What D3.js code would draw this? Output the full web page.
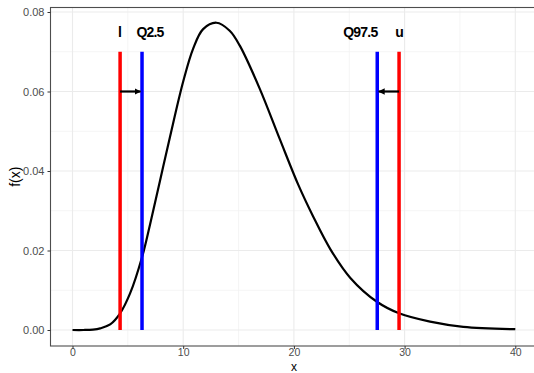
<!DOCTYPE html>
<html>
<head>
<meta charset="utf-8">
<script src="https://cdn.jsdelivr.net/npm/d3@7"></script>
<style>
  body { margin: 0; background: #fff; }
  text { font-family: "Liberation Sans", Arial, sans-serif; }
</style>
</head>
<body>
<div id="chart"></div>
<script>
// density curve
var curveX = [0, 1, 1.85, 2.5, 3.4, 4.3, 5.2, 6.3, 7.0, 7.9, 8.8, 10.0, 10.9, 11.8, 13.0, 14.2, 15.1, 16.9, 18.7, 20.4, 21.75, 23.3, 25.1, 27.5, 29.5, 32.3, 35.3, 40];
var curveY = [0, 0, 0.0001, 0.0004, 0.0014, 0.0042, 0.0092, 0.0185, 0.0265, 0.0375, 0.0485, 0.0625, 0.0708, 0.0757, 0.0773, 0.0753, 0.0716, 0.0608, 0.0482, 0.0365, 0.0285, 0.0203, 0.0131, 0.0071, 0.0042, 0.0021, 0.0008, 0.0002];

// vertical markers
var markerNames = ["l", "Q2.5", "Q97.5", "u"];
var markerX = [4.3, 6.28, 27.53, 29.5];
var markerColors = ["red", "blue", "blue", "red"];
var markerTop = 0.07;

// labels above the markers
var labelText = ["l", "Q2.5", "Q97.5", "u"];
var labelX = [4.25, 7.0, 26.0, 29.5];
var labelY = 0.075;

// arrows (from, to) at y = 0.06
var arrowFrom = [4.3, 29.5];
var arrowTo = [6.28, 27.53];
var arrowY = 0.06;

var xTicks = [0, 10, 20, 30, 40];
var xMinor = [5, 15, 25, 35];
var yTicks = [0, 0.02, 0.04, 0.06, 0.08];
var yMinor = [0.01, 0.03, 0.05, 0.07];

var width = 534, height = 373;
var panel = { left: 50.5, right: 537, top: 7.5, bottom: 346 };

var svg = d3.select("#chart").append("svg")
    .attr("width", width)
    .attr("height", height);

var x = d3.scaleLinear().domain([0, 40]).range([72.5, 515.3]);
var y = d3.scaleLinear().domain([0, 0.08]).range([330, 12]);

// grid
var grid = svg.append("g");
grid.selectAll(".xminor").data(xMinor).enter().append("line")
    .attr("x1", function(d) { return x(d); }).attr("x2", function(d) { return x(d); })
    .attr("y1", panel.top).attr("y2", panel.bottom)
    .attr("stroke", "#f2f2f2").attr("stroke-width", 0.8);
grid.selectAll(".yminor").data(yMinor).enter().append("line")
    .attr("y1", function(d) { return y(d); }).attr("y2", function(d) { return y(d); })
    .attr("x1", panel.left).attr("x2", panel.right)
    .attr("stroke", "#f2f2f2").attr("stroke-width", 0.8);
grid.selectAll(".xmajor").data(xTicks).enter().append("line")
    .attr("x1", function(d) { return x(d); }).attr("x2", function(d) { return x(d); })
    .attr("y1", panel.top).attr("y2", panel.bottom)
    .attr("stroke", "#ebebeb").attr("stroke-width", 1.1);
grid.selectAll(".ymajor").data(yTicks).enter().append("line")
    .attr("y1", function(d) { return y(d); }).attr("y2", function(d) { return y(d); })
    .attr("x1", panel.left).attr("x2", panel.right)
    .attr("stroke", "#ebebeb").attr("stroke-width", 1.1);

// curve
var line = d3.line()
    .x(function(d) { return x(d[0]); })
    .y(function(d) { return y(d[1]); })
    .curve(d3.curveCatmullRom.alpha(0.5));

svg.append("path")
    .datum(d3.zip(curveX, curveY))
    .attr("d", line)
    .attr("fill", "none")
    .attr("stroke", "black")
    .attr("stroke-width", 2.2);

// markers
svg.selectAll(".marker").data(markerX).enter().append("line")
    .attr("x1", function(d) { return x(d); }).attr("x2", function(d) { return x(d); })
    .attr("y1", y(0)).attr("y2", y(markerTop))
    .attr("stroke", function(d, i) { return markerColors[i]; })
    .attr("stroke-width", 3.5);

// arrows
svg.append("defs").append("marker")
    .attr("id", "head")
    .attr("viewBox", "0 0 10 10")
    .attr("refX", 9).attr("refY", 5)
    .attr("markerWidth", 3).attr("markerHeight", 3)
    .attr("orient", "auto")
    .append("path").attr("d", "M0,0 L10,5 L0,10 z").attr("fill", "black");

svg.selectAll(".arrow").data(arrowFrom).enter().append("line")
    .attr("x1", function(d) { return x(d); })
    .attr("x2", function(d, i) { return x(arrowTo[i]) + (arrowTo[i] > d ? -1.5 : 1.5); })
    .attr("y1", y(arrowY)).attr("y2", y(arrowY))
    .attr("stroke", "black").attr("stroke-width", 2.2)
    .attr("marker-end", "url(#head)");

// labels
svg.selectAll(".lab").data(labelText).enter().append("text")
    .attr("x", function(d, i) { return x(labelX[i]); })
    .attr("y", y(labelY) + 5)
    .attr("text-anchor", "middle")
    .attr("font-size", 14)
    .attr("font-weight", "bold")
    .attr("letter-spacing", -0.8)
    .text(function(d) { return d; });

// panel border
svg.append("rect")
    .attr("x", panel.left).attr("y", panel.top)
    .attr("width", panel.right - panel.left).attr("height", panel.bottom - panel.top)
    .attr("fill", "none").attr("stroke", "#4d4d4d").attr("stroke-width", 1.1);

// axes
var xAxis = svg.append("g")
    .attr("transform", "translate(0," + panel.bottom + ")")
    .call(d3.axisBottom(x).tickValues(xTicks).tickSize(3).tickPadding(0));
var yAxis = svg.append("g")
    .attr("transform", "translate(" + panel.left + ",0)")
    .call(d3.axisLeft(y).tickValues(yTicks).tickFormat(d3.format(".2f")).tickSize(3).tickPadding(3));

[xAxis, yAxis].forEach(function(a) {
    a.select(".domain").remove();
    a.selectAll(".tick line").attr("stroke", "#333").attr("stroke-width", 1);
    a.selectAll(".tick text")
        .attr("fill", "#4d4d4d")
        .attr("font-size", 11)
        .attr("font-family", "Liberation Sans, Arial, sans-serif");
});
xAxis.selectAll(".tick text").attr("font-size", 10.5);

// axis titles
svg.append("text")
    .attr("x", 294)
    .attr("y", 370.5)
    .attr("text-anchor", "middle")
    .attr("font-size", 12)
    .text("x");

svg.append("text")
    .attr("transform", "translate(20," + ((panel.top + panel.bottom) / 2) + ") rotate(-90)")
    .attr("text-anchor", "middle")
    .attr("font-size", 14)
    .text("f(x)");
</script>
</body>
</html>
